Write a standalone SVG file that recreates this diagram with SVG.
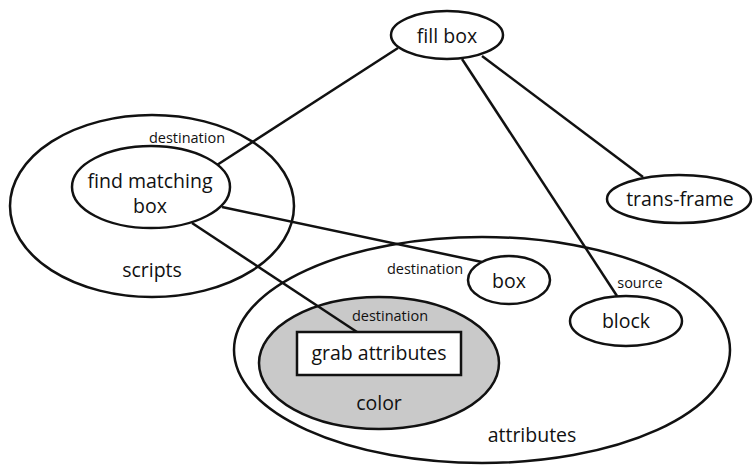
<svg xmlns="http://www.w3.org/2000/svg" width="754" height="466" viewBox="0 0 754 466">
<style>
.e{fill:none;stroke:#111;stroke-width:2.5}
.w{fill:#fff;stroke:#111;stroke-width:2.5}
.c{stroke:#111;stroke-width:2.5;fill:none}
text{font-family:"Open Sans","Noto Sans",sans-serif;fill:#111;text-anchor:middle}
.l{font-size:19.5px}
.s{font-size:14.5px}
</style>
<rect width="754" height="466" fill="#fff"/>
<g id="attributes">
<ellipse class="e" cx="482" cy="350" rx="248" ry="113"/>
<text class="l" x="532" y="442">attributes</text>
</g>
<g id="color">
<ellipse cx="379" cy="363" rx="120" ry="66" fill="#c9c9c9" stroke="#111" stroke-width="2.5"/>
<text class="l" x="379" y="410">color</text>
<text class="s" x="390" y="321">destination</text>
</g>
<g id="scripts">
<ellipse class="e" cx="152" cy="206" rx="142" ry="91"/>
<text class="l" x="152" y="277">scripts</text>
<text class="s" x="187" y="143">destination</text>
</g>
<g id="connectors">
<line class="c" x1="398" y1="48" x2="217" y2="165"/>
<line class="c" x1="462" y1="59" x2="617" y2="296"/>
<line class="c" x1="482" y1="56" x2="643" y2="177"/>
<line class="c" x1="222" y1="207" x2="482" y2="262"/>
<line class="c" x1="192" y1="223" x2="357" y2="332"/>
</g>
<g id="find-matching-box">
<ellipse class="w" cx="151" cy="187" rx="79" ry="41"/>
<text class="l" x="150" y="188">find matching</text>
<text class="l" x="150" y="213">box</text>
</g>
<g id="fill-box">
<ellipse class="w" cx="447" cy="35" rx="56" ry="24"/>
<text class="l" x="447" y="43">fill box</text>
</g>
<g id="trans-frame">
<ellipse class="w" cx="679" cy="199" rx="72" ry="24"/>
<text class="l" x="680" y="206">trans-frame</text>
</g>
<g id="box">
<ellipse class="w" cx="509" cy="280" rx="41" ry="24"/>
<text class="l" x="509" y="288">box</text>
<text class="s" x="425" y="274">destination</text>
</g>
<g id="block">
<ellipse class="w" cx="626" cy="321" rx="56" ry="25"/>
<text class="l" x="626" y="328">block</text>
<text class="s" x="640" y="288">source</text>
</g>
<g id="grab-attributes">
<rect class="w" x="297" y="332" width="164" height="43"/>
<text class="l" x="379" y="360">grab attributes</text>
</g>
</svg>
